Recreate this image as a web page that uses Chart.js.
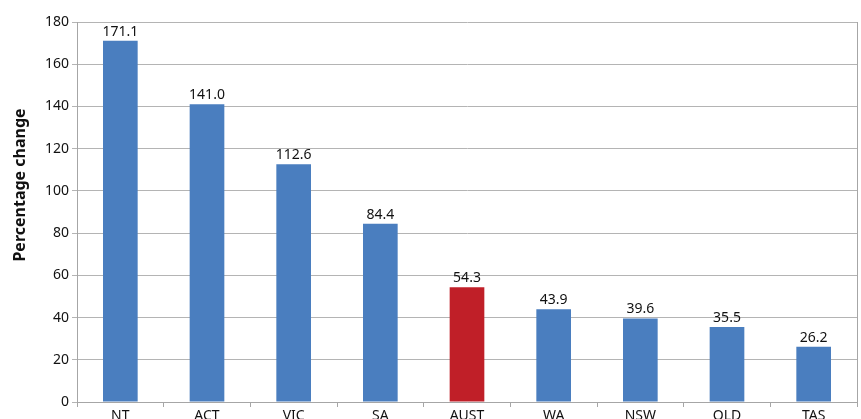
<!DOCTYPE html>
<html>
<head>
<meta charset="utf-8">
<script src="https://cdn.jsdelivr.net/npm/chart.js@4"></script>
<style>
  html, body { margin: 0; padding: 0; background: #ffffff; overflow: hidden; }
  #wrap { position: relative; width: 861px; height: 419px; }
</style>
</head>
<body>
<div id="wrap"><canvas id="c" width="861" height="419"></canvas></div>
<script>
const categories = ["NT", "ACT", "VIC", "SA", "AUST", "WA", "NSW", "QLD", "TAS"];
const percentChange = [171.1, 141.0, 112.6, 84.4, 54.3, 43.9, 39.6, 35.5, 26.2];
const highlightCategory = "AUST";
const yTitle = "Percentage change";
const yMin = 0, yMax = 180, yStep = 20;

const BLUE = "#4a7ebf";
const RED = "#c01f28";
const FONT = "'Noto Sans', 'Liberation Sans', Arial, sans-serif";

const valueLabels = {
  id: "valueLabels",
  afterDatasetsDraw(chart) {
    const ctx = chart.ctx;
    const meta = chart.getDatasetMeta(0);
    ctx.save();
    ctx.font = "14px " + FONT;
    ctx.fillStyle = "#111111";
    ctx.textAlign = "center";
    ctx.textBaseline = "bottom";
    meta.data.forEach((bar, i) => {
      ctx.fillText(percentChange[i].toFixed(1), bar.x, bar.y - 2);
    });
    ctx.restore();
  }
};

const axisTitle = {
  id: "axisTitle",
  afterDraw(chart) {
    const ctx = chart.ctx;
    ctx.save();
    ctx.translate(20, 185);
    ctx.rotate(-Math.PI / 2);
    ctx.font = "bold 16px " + FONT;
    ctx.fillStyle = "#111111";
    ctx.textAlign = "center";
    ctx.textBaseline = "middle";
    ctx.fillText(yTitle, 0, 0);
    ctx.restore();
  }
};

new Chart(document.getElementById("c"), {
  type: "bar",
  data: {
    labels: categories,
    datasets: [{
      data: percentChange,
      backgroundColor: categories.map(c => c === highlightCategory ? RED : BLUE),
      borderWidth: 0,
      barPercentage: 0.4,
      categoryPercentage: 1.0
    }]
  },
  options: {
    responsive: false,
    animation: false,
    devicePixelRatio: 1,
    layout: { padding: { top: 22, right: 0, left: 0, bottom: 0 } },
    plugins: { legend: { display: false }, tooltip: { enabled: false }, title: { display: false } },
    scales: {
      x: {
        grid: { display: true, offset: true, drawOnChartArea: false, drawTicks: true, tickLength: 5, color: "#a6a6a6", lineWidth: 1 },
        border: { display: true, color: "#a6a6a6", width: 1 },
        ticks: { font: { family: FONT, size: 14 }, color: "#111111", padding: 1, maxRotation: 0 },
        afterFit(scale) { scale.height = 17; }
      },
      y: {
        min: yMin, max: yMax,
        ticks: { stepSize: yStep, font: { family: FONT, size: 14 }, color: "#111111", padding: 3 },
        grid: { color: "#b4b4b4", lineWidth: 1, drawTicks: true, tickLength: 5 },
        border: { display: true, color: "#a6a6a6", width: 1 },
        afterFit(scale) { scale.width = 77; }
      },
      y2: {
        position: "right",
        min: yMin, max: yMax,
        ticks: { display: false },
        grid: { drawOnChartArea: false, drawTicks: false },
        border: { display: true, color: "#a6a6a6", width: 1 },
        afterFit(scale) { scale.width = 4; }
      }
    }
  },
  plugins: [valueLabels, axisTitle]
});
</script>
</body>
</html>
